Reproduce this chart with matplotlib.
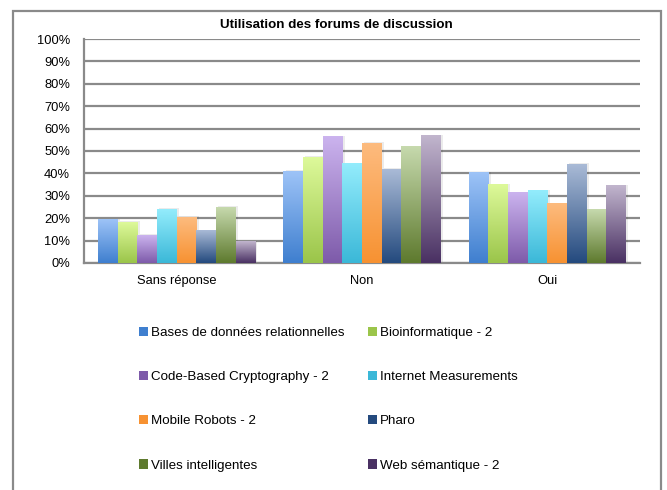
import numpy as np
import matplotlib
matplotlib.use('Agg')
import matplotlib.pyplot as plt
from matplotlib.colors import LinearSegmentedColormap
from matplotlib.patches import Rectangle, Patch

plt.rcParams['font.family'] = ['Liberation Sans', 'DejaVu Sans']

# ── Data ────────────────────────────────────────────────────────────────
categories = ['Sans réponse', 'Non', 'Oui']
series = ['Bases de données relationnelles', 'Bioinformatique - 2',
          'Code-Based Cryptography - 2', 'Internet Measurements',
          'Mobile Robots - 2', 'Pharo', 'Villes intelligentes',
          'Web sémantique - 2']
bases = [19.2, 41.0, 40.3]
bioinfo = [18.3, 47.3, 34.9]
crypto = [12.5, 56.3, 31.3]
internet = [24.1, 44.3, 32.2]
robots = [20.5, 53.5, 26.4]
pharo = [14.3, 41.9, 44.2]
villes = [25.0, 51.9, 23.7]
web = [9.4, 56.8, 34.4]
values = [bases, bioinfo, crypto, internet, robots, pharo, villes, web]

# gradient colours (top, bottom) for each series
colors = [('#9dc3f7', '#3f7fcf'), ('#ddf99a', '#9bc54a'),
          ('#cbb3ee', '#7e5baa'), ('#93ecfc', '#3bb8d8'),
          ('#fdbb7e', '#f79232'), ('#a9bad6', '#244a7e'),
          ('#c6d9ad', '#5e7a2e'), ('#c1b5cd', '#4a3163')]

# ── Figure ──────────────────────────────────────────────────────────────
fig = plt.figure(figsize=(6.67, 4.9), dpi=100)
ax = fig.add_axes([0.1259, 0.4633, 0.8336, 0.4571])

n = len(series)
group_w = 0.848
bar_w = group_w / n
x = np.arange(len(categories))
grad = np.linspace(0, 1, 100).reshape(-1, 1)

for i, (vals, (c_top, c_bot)) in enumerate(zip(values, colors)):
    cmap = LinearSegmentedColormap.from_list(f's{i}', [c_bot, c_top])
    for xi, v in zip(x, vals):
        x0 = xi - group_w / 2 + i * bar_w
        # soft shadow
        ax.add_patch(Rectangle((x0 + 0.012, 0), bar_w, v + 0.4,
                               facecolor='#000000', alpha=0.08,
                               edgecolor='none', zorder=2))
        ax.imshow(grad, extent=[x0, x0 + bar_w, 0, v], origin='lower',
                  cmap=cmap, aspect='auto', zorder=3, interpolation='bilinear')

ax.set_xlim(-0.5, len(categories) - 0.5)
ax.set_ylim(0, 100)
ax.set_aspect('auto')
ax.set_yticks(np.arange(0, 101, 10))
ax.set_yticklabels([f'{t}%' for t in range(0, 101, 10)], fontsize=9.3)
ax.set_xticks(x)
ax.set_xticklabels(categories, fontsize=9.3)
ax.tick_params(length=0)
ax.tick_params(axis='y', pad=10)
ax.tick_params(axis='x', pad=8.5)
ax.grid(axis='y', color='#8a8a8a', linewidth=1.6, zorder=1)
ax.set_axisbelow(True)
for s in ['top', 'right']:
    ax.spines[s].set_visible(False)
for s in ['left', 'bottom']:
    ax.spines[s].set_color('#8a8a8a')
    ax.spines[s].set_linewidth(1.6)

fig.text(0.505, 0.949, 'Utilisation des forums de discussion',
         ha='center', va='center', fontsize=9.6, fontweight='bold')

# outer chart frame
fig.add_artist(Rectangle((13 / 667, -0.05), 648 / 667, 1 - 11 / 490 + 0.05,
                         transform=fig.transFigure, facecolor='none',
                         edgecolor='#8a8a8a', linewidth=1.6))

# legend filled row by row (two columns)
handles = [Patch(facecolor=cb, edgecolor='none') for _, cb in colors]
order = [0, 2, 4, 6, 1, 3, 5, 7]
fig.legend([handles[k] for k in order], [series[k] for k in order],
           loc='upper left', bbox_to_anchor=(139 / 667, 1 - 327 / 490),
           ncol=2, frameon=False, fontsize=9.6, handlelength=0.7,
           handleheight=0.7, handletextpad=0.2, labelspacing=2.38,
           columnspacing=1.75, borderpad=0, borderaxespad=0)

fig.savefig('out.png', dpi=100)
